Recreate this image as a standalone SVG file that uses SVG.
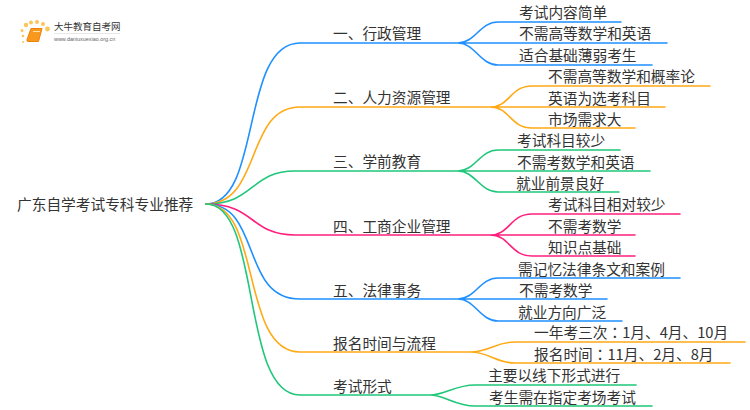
<svg xmlns="http://www.w3.org/2000/svg" width="750" height="410" viewBox="0 0 750 410">
<style>
text{font-family:"Noto Sans CJK SC","Noto Sans",sans-serif;font-size:14.7px;fill:#333}
.c{font-family:"Noto Sans CJK TC",sans-serif}
.l{fill:none;stroke-width:1.6;stroke-linecap:round}
.b{stroke:#1e90ff}.o{stroke:#ffa914}.g{stroke:#1fc77a}.p{stroke:#ff1f7d}
</style>
<rect width="750" height="410" fill="#fff"/>
<g id="connectors">
<path class="l b" d="M206 204C262 204 240 43 300 43H458M458 43C475 43 480 22 498 22H621M458 43H667M458 43C475 43 480 65 498 65H652"/>
<path class="l o" d="M206 204C262 204 245 107 300 107H490M490 107C510 107 510 86 532 86H710M490 107H665M490 107C510 107 510 128 532 128H635"/>
<path class="l g" d="M206 204C255 204 250 171 295 171H458M458 171C475 171 480 150 498 150H620M458 171H650M458 171C475 171 480 192 498 192H619"/>
<path class="l p" d="M206 204C255 204 250 235 295 235H490M490 235C510 235 510 214 532 214H680M490 235H635M490 235C510 235 510 256 532 256H635"/>
<path class="l b" d="M206 204C262 204 240 299 300 299H458M458 299C475 299 480 278 498 278H680M458 299H607M458 299C475 299 480 321 498 321H622"/>
<path class="l o" d="M206 204C262 204 240 352 300 352H470M470 352C490 352 495 342 515 342H745M470 352C490 352 495 363 515 363H730"/>
<path class="l g" d="M206 204C262 204 240 395 300 395H430M430 395C445 395 455 385 475 385H636M430 395C445 395 455 406 475 406H652"/>
</g>
<g id="logo">
<g fill="#fbc55a"><circle cx="26" cy="25" r="2.2"/><circle cx="31" cy="22.5" r="2"/><circle cx="37" cy="22" r="2"/><circle cx="43" cy="24" r="2"/><circle cx="47.5" cy="29" r="2.4"/><circle cx="22" cy="30.5" r="1.5"/><circle cx="23" cy="36" r="1.3"/><circle cx="23" cy="42" r="1"/></g>
<path d="M31 28.5H42L38.500 41.500H28Q26.500 41.500 27 39.500Z" fill="#f8981d" stroke="#ea8210" stroke-width="1" stroke-linejoin="round"/>
<path d="M33 31.500H40" stroke="#ffe2a8" stroke-width="1"/>
<text x="54" y="30" style="font-size:9.500px">大牛教育自考网</text>
<path d="M54 33.500H120" stroke="#ddd" stroke-width=".7"/>
<text x="54" y="41" style="font-size:5.400px;fill:#666;font-family:'Liberation Sans',sans-serif">www.daniuxuexiao.org.cn</text>
</g>
<g id="root"><text x="17" y="210">广东自学考试专科专业推荐</text></g>
<g id="n1"><text x="333" y="39">一、行政管理</text></g>
<g id="n1a"><text x="519" y="18">考试内容简单</text></g>
<g id="n1b"><text x="519" y="39">不需高等数学和英语</text></g>
<g id="n1c"><text x="519" y="61">适合基础薄弱考生</text></g>
<g id="n2"><text x="333" y="103">二、人力资源管理</text></g>
<g id="n2a"><text x="548" y="82">不需高等数学和概率论</text></g>
<g id="n2b"><text x="548" y="104">英语为选考科目</text></g>
<g id="n2c"><text x="548" y="125">市场需求大</text></g>
<g id="n3"><text x="333" y="167">三、学前教育</text></g>
<g id="n3a"><text x="517" y="146">考试科目较少</text></g>
<g id="n3b"><text x="517" y="168">不需考数学和英语</text></g>
<g id="n3c"><text x="516" y="189">就业前景良好</text></g>
<g id="n4"><text x="333" y="232">四、工商企业管理</text></g>
<g id="n4a"><text x="548" y="210">考试科目相对较少</text></g>
<g id="n4b"><text x="548" y="232">不需考数学</text></g>
<g id="n4c"><text x="548" y="253">知识点基础</text></g>
<g id="n5"><text x="333" y="296">五、法律事务</text></g>
<g id="n5a"><text x="518" y="275">需记忆法律条文和案例</text></g>
<g id="n5b"><text x="519" y="296">不需考数学</text></g>
<g id="n5c"><text x="518" y="318">就业方向广泛</text></g>
<g id="n6"><text x="333" y="349">报名时间与流程</text></g>
<g id="n6a"><text x="534" y="338">一年考三次<tspan class="c">：</tspan>1月、4月、10月</text></g>
<g id="n6b"><text x="534" y="360">报名时间<tspan class="c">：</tspan>11月、2月、8月</text></g>
<g id="n7"><text x="333" y="392">考试形式</text></g>
<g id="n7a"><text x="488" y="381">主要以线下形式进行</text></g>
<g id="n7b"><text x="489" y="403">考生需在指定考场考试</text></g>
</svg>
